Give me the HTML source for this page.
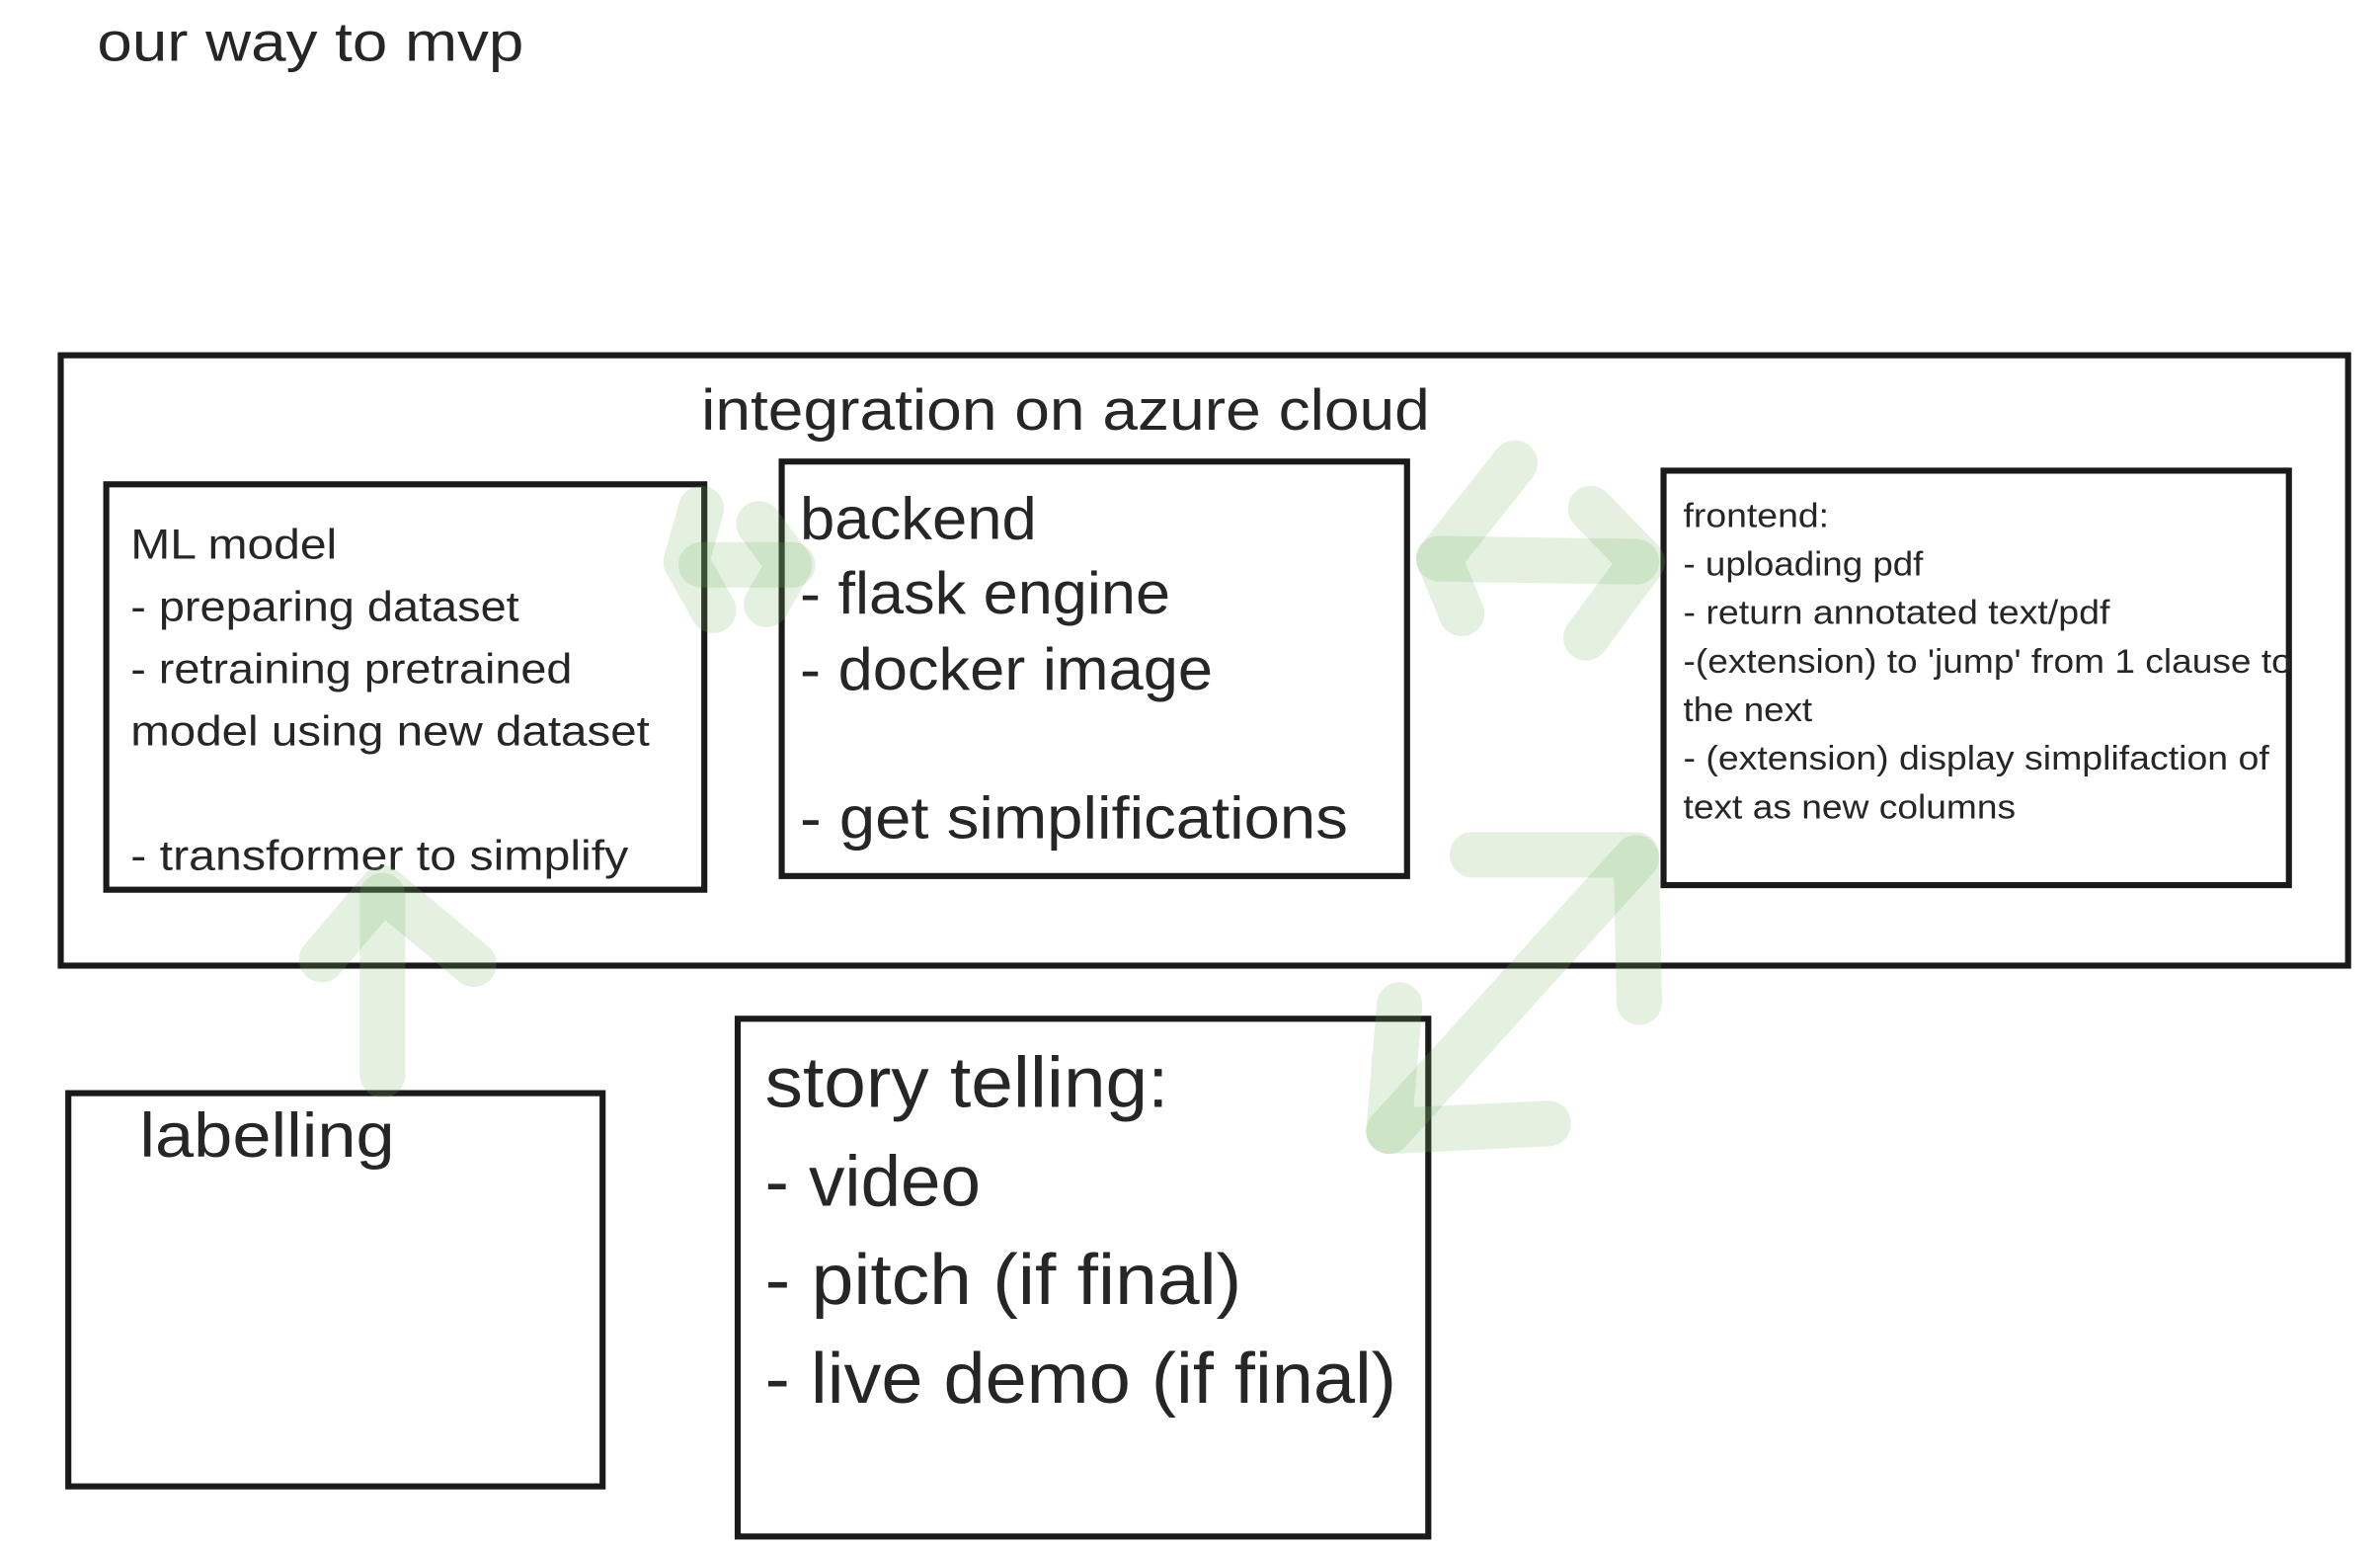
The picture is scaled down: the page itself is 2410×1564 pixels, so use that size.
<!DOCTYPE html>
<html><head><meta charset="utf-8"><style>
html,body{margin:0;padding:0;background:#fff;}
svg{display:block;}
text{font-family:"Liberation Sans",sans-serif;fill:#262626;}
</style></head><body>
<svg width="2410" height="1564" viewBox="0 0 1568 1017.6" xmlns="http://www.w3.org/2000/svg">
<rect width="1568" height="1018" fill="#fff"/>
<text x="64" y="40" font-size="36" textLength="281" lengthAdjust="spacingAndGlyphs">our way to mvp</text>
<rect x="40" y="234" width="1507" height="402" fill="none" stroke="#1a1a1a" stroke-width="4"/>
<text x="462" y="283" font-size="38" textLength="480" lengthAdjust="spacingAndGlyphs">integration on azure cloud</text>
<rect x="70" y="319" width="394" height="267" fill="none" stroke="#1a1a1a" stroke-width="4"/>
<g font-size="28">
<text x="86" y="368" textLength="136" lengthAdjust="spacingAndGlyphs">ML model</text>
<text x="86" y="409" textLength="256" lengthAdjust="spacingAndGlyphs">- preparing dataset</text>
<text x="86" y="450" textLength="291" lengthAdjust="spacingAndGlyphs">- retraining pretrained</text>
<text x="86" y="491" textLength="342" lengthAdjust="spacingAndGlyphs">model using new dataset</text>
<text x="86" y="573" textLength="328" lengthAdjust="spacingAndGlyphs">- transformer to simplify</text>
</g>
<rect x="515" y="304" width="412" height="273" fill="none" stroke="#1a1a1a" stroke-width="4"/>
<g font-size="39">
<text x="527" y="355" textLength="156" lengthAdjust="spacingAndGlyphs">backend</text>
<text x="527" y="404" textLength="244" lengthAdjust="spacingAndGlyphs">- flask engine</text>
<text x="527" y="454" textLength="272" lengthAdjust="spacingAndGlyphs">- docker image</text>
<text x="527" y="552" textLength="361" lengthAdjust="spacingAndGlyphs">- get simplifications</text>
</g>
<rect x="1096" y="310" width="412" height="273" fill="none" stroke="#1a1a1a" stroke-width="4"/>
<g font-size="22">
<text x="1109" y="347" textLength="96" lengthAdjust="spacingAndGlyphs">frontend:</text>
<text x="1109" y="379" textLength="158" lengthAdjust="spacingAndGlyphs">- uploading pdf</text>
<text x="1109" y="411" textLength="281" lengthAdjust="spacingAndGlyphs">- return annotated text/pdf</text>
<text x="1109" y="443" textLength="401" lengthAdjust="spacingAndGlyphs">-(extension) to 'jump' from 1 clause to</text>
<text x="1109" y="475" textLength="85" lengthAdjust="spacingAndGlyphs">the next</text>
<text x="1109" y="507" textLength="386" lengthAdjust="spacingAndGlyphs">- (extension) display simplifaction of</text>
<text x="1109" y="539" textLength="219" lengthAdjust="spacingAndGlyphs">text as new columns</text>
</g>
<rect x="45" y="720" width="352" height="259" fill="none" stroke="#1a1a1a" stroke-width="4"/>
<text x="92" y="762" font-size="41" textLength="168" lengthAdjust="spacingAndGlyphs">labelling</text>
<rect x="486" y="671" width="455" height="341" fill="none" stroke="#1a1a1a" stroke-width="4"/>
<g font-size="47">
<text x="504" y="729" textLength="266" lengthAdjust="spacingAndGlyphs">story telling:</text>
<text x="504" y="794" textLength="142" lengthAdjust="spacingAndGlyphs">- video</text>
<text x="504" y="859" textLength="314" lengthAdjust="spacingAndGlyphs">- pitch (if final)</text>
<text x="504" y="924" textLength="416" lengthAdjust="spacingAndGlyphs">- live demo (if final)</text>
</g>
<g fill="none" stroke="rgb(120,180,100)" stroke-opacity="0.2" stroke-width="30" stroke-linecap="round" stroke-linejoin="round">
<path d="M462,335 L452,370 L470,402"/>
<path d="M462,372 L522,372"/>
<path d="M500,345 L520,372 L505,398"/>
<path d="M998,305 L948,368 L963,404"/>
<path d="M948,368 L1078,370"/>
<path d="M1048,335 L1082,370 L1045,420"/>
<path d="M1078,565 L915,745"/>
<path d="M970,563 L1078,563 L1080,660"/>
<path d="M922,662 L915,745 L1020,740"/>
<path d="M252,708 L252,590"/>
<path d="M212,632 L252,585 L312,635"/>
</g>
</svg>
</body></html>
